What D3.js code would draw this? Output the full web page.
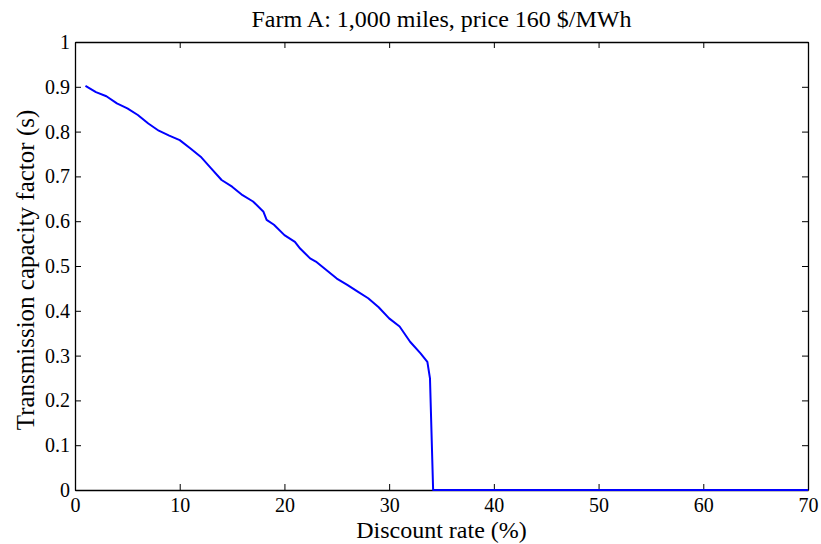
<!DOCTYPE html>
<html>
<head>
<meta charset="utf-8">
<script src="https://cdn.jsdelivr.net/npm/d3@7"></script>
<style>
  body { margin: 0; background: #fff; }
  svg { display: block; }
  svg text { font-family: "Liberation Serif", "Times New Roman", serif !important; fill: #000; }
</style>
</head>
<body>
<svg id="chart" width="821" height="544"></svg>
<script>
// Discount rate (%) and the resulting transmission capacity factor
const discountRate = [1, 2, 3, 4, 5, 6, 7, 8, 9, 10, 11, 12, 13, 14, 15, 16, 17, 18, 18.3, 19, 20, 21, 21.5, 22.45, 23, 24, 25, 26, 27, 28, 29, 30, 31, 32, 33, 33.65, 33.9, 34.2, 40, 50, 60, 70];
const capacityFactor = [0.902, 0.888, 0.879, 0.863, 0.852, 0.837, 0.818, 0.802, 0.791, 0.781, 0.763, 0.744, 0.718, 0.692, 0.677, 0.658, 0.644, 0.621, 0.603, 0.592, 0.569, 0.554, 0.539, 0.517, 0.51, 0.491, 0.472, 0.458, 0.443, 0.428, 0.408, 0.383, 0.365, 0.331, 0.305, 0.286, 0.249, 0, 0, 0, 0, 0];
const xTicks = [0, 10, 20, 30, 40, 50, 60, 70];
const yTicks = [0, 0.1, 0.2, 0.3, 0.4, 0.5, 0.6, 0.7, 0.8, 0.9, 1];

const titleText = "Farm A: 1,000 miles, price 160 $/MWh";
const xLabel = "Discount rate (%)";
const yLabel = "Transmission capacity factor (s)";

const margin = { left: 75, right: 13, top: 42, bottom: 54 };
const W = 821, H = 544;
const svg = d3.select("#chart");
const serif = '"Liberation Serif", "Times New Roman", serif';

const x = d3.scaleLinear().domain([0, 70]).range([margin.left, W - margin.right]);
const y = d3.scaleLinear().domain([0, 1]).range([H - margin.bottom, margin.top]);

const tickLen = 6;
const tickFmtY = d => (d === 0 || d === 1) ? String(d) : d3.format(".1f")(d);

// Bottom axis with inward ticks
const gx = svg.append("g").attr("transform", `translate(0,${y(0)})`)
  .call(d3.axisBottom(x).tickValues(xTicks).tickSizeInner(-tickLen).tickSizeOuter(0).tickPadding(8).tickFormat(d3.format("d")));
// Top mirror axis
const gxt = svg.append("g").attr("transform", `translate(0,${y(1)})`)
  .call(d3.axisTop(x).tickValues(xTicks).tickSizeInner(-tickLen).tickSizeOuter(0).tickFormat(""));
// Left axis
const gy = svg.append("g").attr("transform", `translate(${x(0)},0)`)
  .call(d3.axisLeft(y).tickValues(yTicks).tickSizeInner(-tickLen).tickSizeOuter(0).tickPadding(5).tickFormat(tickFmtY));
// Right mirror axis
const gyr = svg.append("g").attr("transform", `translate(${x(70)},0)`)
  .call(d3.axisRight(y).tickValues(yTicks).tickSizeInner(-tickLen).tickSizeOuter(0).tickFormat(""));

[gx, gxt, gy, gyr].forEach(g => {
  g.attr("font-family", serif).attr("font-size", 20);
  g.select(".domain").attr("stroke", "#000").attr("stroke-width", 1.3);
  g.selectAll(".tick line").attr("stroke", "#000").attr("stroke-width", 1);
  g.selectAll(".tick text").style("font-family", serif).style("font-size", "20px").attr("fill", "#000");
});

// Curve
const line = d3.line().x((d, i) => x(discountRate[i])).y((d, i) => y(capacityFactor[i]));
svg.append("path")
  .datum(capacityFactor)
  .attr("d", line)
  .attr("fill", "none")
  .attr("stroke", "#0000ff")
  .attr("stroke-width", 2)
  .attr("stroke-linejoin", "round");

// Title and axis labels
svg.append("text").attr("x", (x(0) + x(70)) / 2).attr("y", 27)
  .attr("text-anchor", "middle").style("font-size", "24px").text(titleText);
svg.append("text").attr("x", (x(0) + x(70)) / 2).attr("y", 538)
  .attr("text-anchor", "middle").style("font-size", "24px").text(xLabel);
svg.append("text")
  .attr("transform", `translate(34,${(y(0) + y(1)) / 2 + 4}) rotate(-90)`)
  .attr("text-anchor", "middle").style("font-size", "25px").text(yLabel);
</script>
</body>
</html>
